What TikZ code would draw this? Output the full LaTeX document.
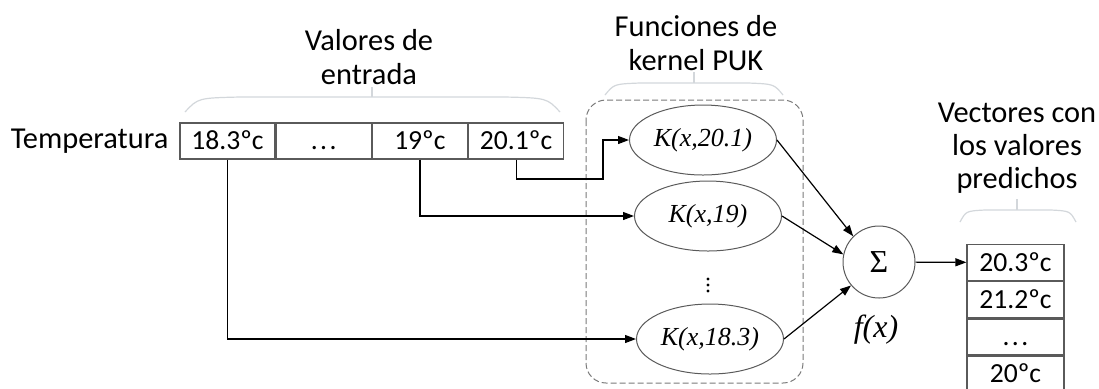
\documentclass[tikz,border=0pt]{standalone}
\usepackage{fontspec}
\setmainfont{Carlito}
\newfontfamily\tms{Liberation Serif}
\usetikzlibrary{arrows.meta,positioning,shapes.geometric}
\definecolor{ink}{HTML}{5A5A5A}
\definecolor{brc}{HTML}{D3D7DB}
\definecolor{dsh}{HTML}{7A7A7A}
\tikzset{
  cell/.style={draw=ink,line width=0.6pt,minimum width=47.5pt,minimum height=18pt,inner sep=0pt,text height=8.8pt,text depth=0pt,font=\fontsize{13.8}{16}\selectfont},
  ocell/.style={cell,minimum width=48.5pt},
  kern/.style={ellipse,draw=ink,line width=0.5pt,minimum width=73.5pt,minimum height=35pt,inner sep=0pt,font=\tms\itshape\fontsize{13}{15}\selectfont},
  grp/.style={align=center,font=\fontsize{15.2}{16.6}\selectfont},
  brace/.style={draw=brc,line width=0.6pt},
  link/.style={->,line width=0.6pt}
}
\newcommand{\puntos}{.\kern1.2pt.\kern1.2pt.}
\begin{document}
\begin{tikzpicture}[x=0.5pt,y=-0.5pt,>={Triangle[length=5.5pt,width=4pt]}]
\useasboundingbox (0,0) rectangle (1099,388);
% entrada
\node[cell] (c1) at (227.5,141) {18.3ºc};
\node[cell,right=0pt of c1] (c2) {\puntos};
\node[cell,right=0pt of c2] (c3) {19ºc};
\node[cell,right=0pt of c3] (c4) {20.1ºc};
\node[grp,left=2pt of c1] (temp) {Temperatura};
\node[grp] (lblin) at (369,57) {Valores de\\entrada};
\draw[brace] (185,112) .. controls (198,98) .. (240,97) -- (505,97) .. controls (547,98) .. (560,112);
\draw[brace] (372,97) -- (372,87);
% kernel
\draw[dsh,dashed,dash pattern=on 3pt off 1.5pt,line width=0.5pt,rounded corners=10pt] (586,100) rectangle (803,383);
\node[kern] (k1) at (703,140) {K(x,20.1)};
\node[kern] (k2) at (708,216) {K(x,19)};
\node[kern] (k3) at (710,339) {K(x,18.3)};
\foreach \y in {279,285,291} \fill (708,\y) circle (0.85pt);
\node[grp] (lblk) at (696,43) {Funciones de\\kernel PUK};
\draw[brace] (605,95) .. controls (614,84) .. (640,83) -- (748,83) .. controls (774,84) .. (783,95);
\draw[brace] (694,83) -- (694,72);
% suma
\node[circle,draw=ink,line width=0.5pt,minimum size=36pt,inner sep=0pt,font=\tms\fontsize{16}{18}\selectfont] (sum) at (879,262) {Σ};
\node[font=\tms\itshape\fontsize{16}{18}\selectfont] (fx) at (876,330) {f(x)};
% salida
\node[ocell] (o1) at (1015.5,262.5) {20.3ºc};
\node[ocell,below=0pt of o1] (o2) {21.2ºc};
\node[ocell,below=0pt of o2] (o3) {\puntos};
\node[ocell,below=0pt of o3] (o4) {20ºc};
\node[grp] (lblout) at (1017,148) {Vectores con\\los valores\\predichos};
\draw[brace] (960,222) .. controls (966,211) .. (985,210) -- (1051,210) .. controls (1070,211) .. (1076,222);
\draw[brace] (1017,210) -- (1017,199);
% conexiones
\coordinate (bend) at (603,179);
\draw[link] (c4.south) |- (bend) |- (k1.west);
\draw[link] (c3.south) |- (k2.west);
\draw[link] (c1.south) |- (k3.west);
\draw[link] (k1.east) -- (sum.135);
\draw[link] (k2.east) -- (sum.168);
\draw[link] (k3.east) -- (sum.220);
\draw[link] (sum) -- (o1);
\end{tikzpicture}
\end{document}
